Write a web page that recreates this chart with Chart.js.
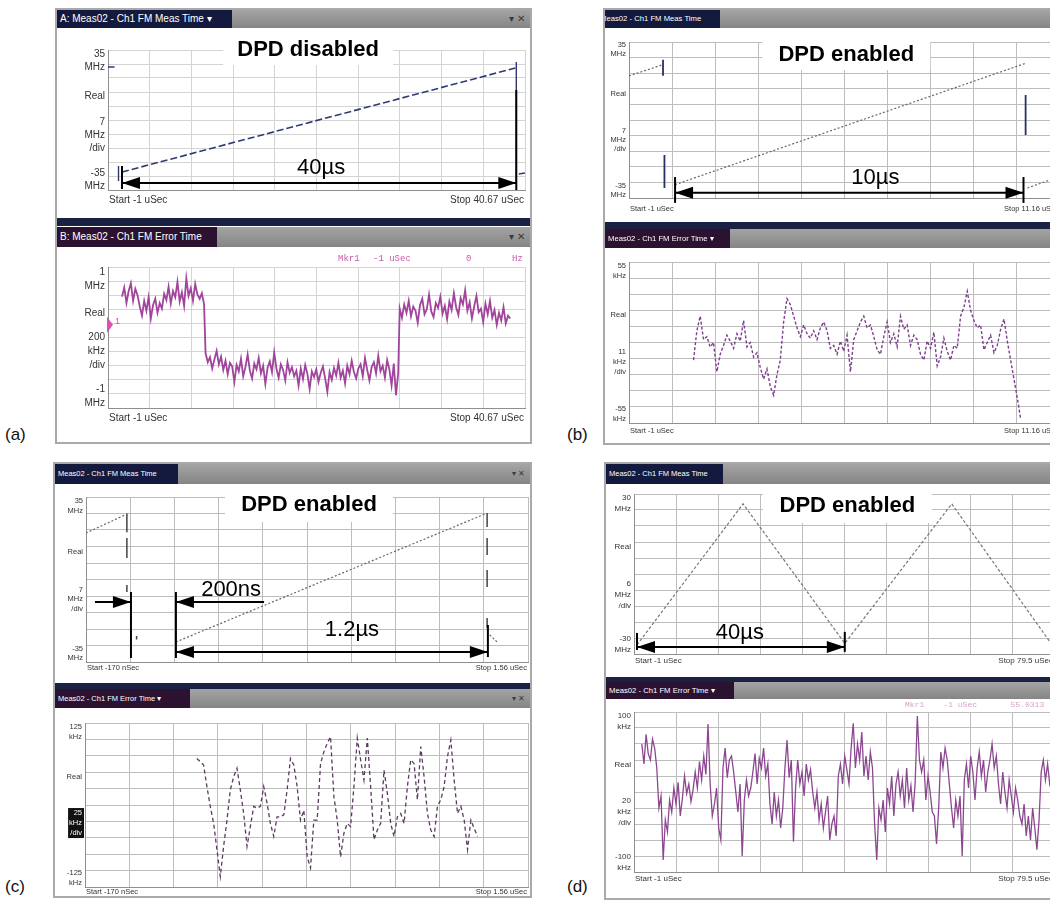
<!DOCTYPE html>
<html>
<head>
<meta charset="utf-8">
<script src="https://cdn.jsdelivr.net/npm/chart.js@4"></script>
<style>
html, body { margin: 0; padding: 0; overflow: hidden; }
body { width: 1050px; height: 907px; position: relative; background: #fff; font-family: "Liberation Sans", Arial, sans-serif; }
.frame { position: absolute; box-sizing: border-box; border: 2px solid #a9a9a9; background: #fff; }
.tbar { position: absolute; background: linear-gradient(#a4a4a4, #858585); overflow: hidden; }
.tab { position: absolute; left: 0; top: 0; bottom: 0; color: #fff; white-space: nowrap; overflow: hidden; padding-left: 3px; box-sizing: border-box; }
.navy { background: #131a3d; }
.plum { background: #2c1231; }
.ctl { position: absolute; right: 5px; top: 0; color: #3a3a3a; font-size: 10px; }
.sep { position: absolute; background: #1b2143; }
canvas { position: absolute; }
.lbl { position: absolute; font-size: 17px; color: #111; }
.mkr { position: absolute; font-family: "Liberation Mono", monospace; white-space: pre; }
</style>
</head>
<body>

<!-- (a) -->
<div class="frame" style="left:55px;top:8px;width:477px;height:436px"></div>
<div class="tbar" style="left:57px;top:10px;width:473px;height:18px">
  <div class="tab navy" style="width:175px;font-size:10px;line-height:18px">A: Meas02 - Ch1 FM Meas Time &#9662;</div>
  <span class="ctl" style="line-height:18px">&#9662; &#10005;</span>
</div>
<canvas id="cA1" width="473" height="190" style="left:57px;top:28px"></canvas>
<div class="sep" style="left:57px;top:218px;width:473px;height:8px"></div>
<div class="tbar" style="left:57px;top:227px;width:473px;height:20px">
  <div class="tab plum" style="width:160px;font-size:10px;line-height:20px">B: Meas02 - Ch1 FM Error Time</div>
  <span class="ctl" style="line-height:20px">&#9662; &#10005;</span>
</div>
<canvas id="cA2" width="473" height="193" style="left:57px;top:247px"></canvas>
<span class="mkr" style="left:338px;top:254px;font-size:9px;color:#c85aa8">Mkr1</span>
<span class="mkr" style="left:373px;top:254px;font-size:9px;color:#c85aa8">-1 uSec</span>
<span class="mkr" style="left:466px;top:254px;font-size:9px;color:#c85aa8">0</span>
<span class="mkr" style="left:512px;top:254px;font-size:9px;color:#c85aa8">Hz</span>

<!-- (b) -->
<div class="frame" style="left:603px;top:8px;width:470px;height:437px"></div>
<div class="tbar" style="left:605px;top:10px;width:470px;height:18px">
  <div class="tab navy" style="width:115px;font-size:7.7px;line-height:18px;padding-left:0"><span style="margin-left:-5px">Meas02 - Ch1 FM Meas Time</span></div>
</div>
<canvas id="cB1" width="465" height="194" style="left:605px;top:28px"></canvas>
<div class="sep" style="left:605px;top:222px;width:470px;height:7px"></div>
<div class="tbar" style="left:605px;top:229px;width:470px;height:19px">
  <div class="tab plum" style="width:125px;font-size:7.7px;line-height:19px">Meas02 - Ch1 FM Error Time &#9662;</div>
</div>
<canvas id="cB2" width="465" height="195" style="left:605px;top:248px"></canvas>

<!-- (c) -->
<div class="frame" style="left:53px;top:462px;width:479px;height:436px"></div>
<div class="tbar" style="left:55px;top:464px;width:475px;height:20px">
  <div class="tab navy" style="width:123px;font-size:7.5px;line-height:20px">Meas02 - Ch1 FM Meas Time</div>
  <span class="ctl" style="line-height:20px;font-size:8px">&#9662; &#10005;</span>
</div>
<canvas id="cC1" width="475" height="199" style="left:55px;top:484px"></canvas>
<div class="sep" style="left:55px;top:683px;width:475px;height:6px"></div>
<div class="tbar" style="left:55px;top:689px;width:475px;height:19px">
  <div class="tab plum" style="width:135px;font-size:7.5px;line-height:19px">Meas02 - Ch1 FM Error Time &#9662;</div>
  <span class="ctl" style="line-height:19px;font-size:8px">&#9662; &#10005;</span>
</div>
<canvas id="cC2" width="475" height="188" style="left:55px;top:708px"></canvas>

<!-- (d) -->
<div class="frame" style="left:604px;top:462px;width:470px;height:438px"></div>
<div class="tbar" style="left:606px;top:464px;width:470px;height:20px">
  <div class="tab navy" style="width:117px;font-size:7.5px;line-height:20px">Meas02 - Ch1 FM Meas Time</div>
</div>
<canvas id="cD1" width="464" height="193" style="left:606px;top:484px"></canvas>
<div class="sep" style="left:606px;top:677px;width:470px;height:5px"></div>
<div class="tbar" style="left:606px;top:682px;width:470px;height:17px">
  <div class="tab plum" style="width:128px;font-size:7.7px;line-height:17px">Meas02 - Ch1 FM Error Time &#9662;</div>
</div>
<canvas id="cD2" width="464" height="199" style="left:606px;top:699px"></canvas>
<span class="mkr" style="left:905px;top:700px;font-size:8px;color:#d7a3cc">Mkr1    -1 uSec       55.0313 kHz</span>

<div class="lbl" style="left:5px;top:425px">(a)</div>
<div class="lbl" style="left:567px;top:425px">(b)</div>
<div class="lbl" style="left:5px;top:877px">(c)</div>
<div class="lbl" style="left:567px;top:877px">(d)</div>

<script>
// ---------- (a) DPD disabled : FM meas time (MHz vs us)
const aRampT = [0.4, 39.7];
const aRampV = [-26, 26];
const aStubT = [-1, -0.35, -0.35, 40.05, 40.67];
const aStubV = [26.5, 26.5, null, -27, -26.5];
const aJumpT = [0.05, 39.8];
const aJumpTop = [-23, 29];
const aJumpBot = [-30.5, -32];

// (a) FM error time (MHz), three plateaus
const aErr1T = [0.4, 8.6];
const aErr1 = [0.58, 0.71, 0.49, 0.66, 0.77, 0.52, 0.69, 0.60,
  0.44, 0.31, 0.52, 0.38, 0.57, 0.27, 0.46, 0.55, 0.35, 0.49, 0.41, 0.62,
  0.53, 0.72, 0.48, 0.66, 0.57, 0.79, 0.51, 0.64, 0.45, 0.84, 0.59, 0.70, 0.52, 0.76, 0.61, 0.55, 0.63, 0.47];
const aErr2T = [8.75, 28.0];
const aErr2 = [-0.22, -0.35, -0.28, -0.44, -0.31, -0.19, -0.38, -0.27, -0.46, -0.33,
  -0.52, -0.36, -0.41, -0.63, -0.39, -0.48, -0.30, -0.55, -0.42, -0.24,
  -0.47, -0.58, -0.37, -0.45, -0.29, -0.51, -0.40, -0.66, -0.43, -0.34,
  -0.49, -0.21, -0.44, -0.57, -0.38, -0.46, -0.61, -0.35, -0.50, -0.42,
  -0.55, -0.47, -0.68, -0.44, -0.59, -0.39, -0.52, -0.73, -0.48, -0.56,
  -0.45, -0.63, -0.50, -0.41, -0.58, -0.77, -0.49, -0.60, -0.43, -0.54,
  -0.36, -0.57, -0.47, -0.65, -0.40, -0.52, -0.33, -0.49, -0.58, -0.44,
  -0.38, -0.55, -0.29, -0.46, -0.61, -0.42, -0.35, -0.51, -0.26, -0.48,
  -0.40, -0.57, -0.32, -0.45, -0.68, -0.37, -0.82, -0.50];
const aErr3T = [28.15, 39.2];
const aErr3 = [0.41, 0.28, 0.47, 0.35, 0.52, 0.30, 0.44, 0.38, 0.21, 0.46,
  0.55, 0.33, 0.40, 0.61, 0.37, 0.29, 0.49, 0.42, 0.58, 0.34,
  0.45, 0.26, 0.51, 0.39, 0.63, 0.43, 0.32, 0.56, 0.47, 0.67,
  0.38, 0.50, 0.27, 0.44, 0.59, 0.36, 0.41, 0.22, 0.48, 0.33,
  0.52, 0.28, 0.39, 0.18, 0.35, 0.24, 0.43, 0.20, 0.31, 0.27];
const aMarker = {t: -1, v: 0.18};

// ---------- (b) DPD enabled, 10 us
const bRampT = [-1, -0.07, -0.07, 0.3, 10.2, 10.2, 10.24, 11.16];
const bRampV = [19.8, 24.7, null, -29, 25.5, null, -30.5, -25.3];
const bJumpT = [-0.04, 0, 10.19];
const bJumpTop = [27, -15.7, 11.2];
const bJumpBot = [19.8, -30.5, -6.7];
const bErrT = [0.82, 10.05];
const bErr = [-12, 8, 18, 2, 4, -3, 0, -20, -8, -2,
  5, 1, -4, 6, 1, 15, -3, 0, -10, -7,
  -17, -25, -18, -30, -36, -22, -12, 14, 30, 26,
  18, 10, 4, 12, 6, 3, 8, 2, 10, 14,
  8, -4, -2, -8, 1, -6, 5, -20, 2, 8,
  14, 18, 10, 12, 4, -5, -8, 4, 14, 0,
  6, -3, 18, 9, 12, -2, 5, 2, -8, -12,
  1, -4, 7, -16, -10, 3, -6, -12, -2, -4,
  18, 24, 35, 22, 15, 10, 12, -5, 0, 5,
  -7, -2, 9, 16, 1, -12, -25, -38, -52];

// ---------- (c) DPD enabled, 1.2 us
const cRampT = [-0.17, -0.017, -0.017, 0.182, 1.392, 1.392, 1.41, 1.443];
const cRampV = [19.7, 27.4, null, -26.5, 27.8, null, -23.5, -26.9];
const cJumpT = [-0.01, -0.01, -0.01, 0.028, 1.4, 1.4, 1.4, 1.4];
const cJumpTop = [28, 17.6, -2.3, -24, 28.2, 17.6, 4, -16.3];
const cJumpBot = [20, 9.1, -5.3, -25.5, 22.3, 10.4, -3.2, -20.6];
const cErrT = [0.267, 1.363];
const cErr = [71, 66, 61, 28, -2, -28, -68, -109, -63, -23,
  23, 43, 56, 23, -13, -63, -33, -2, -5, -2,
  28, 3, -28, -48, -18, -18, -15, 23, 71, 61,
  28, -23, -8, -79, -96, -23, -23, 63, 81, 94,
  104, 13, -23, -79, -43, -28, -33, 28, 102, 69,
  38, 102, 28, -53, -38, -28, 53, 18, -28, -48,
  -18, -13, -28, 28, 69, 63, 8, 89, 43, -13,
  -38, -48, -2, 8, 28, 74, 99, 38, -13, -2,
  -23, -68, -23, -36, -48];

// ---------- (d) DPD enabled, triangular chirp
const dTriT = [-0.43, 19.9, 39.4, 59.9, 79.5];
const dTriV = [-26.6, 26.3, -26, 26.3, -27.6];
const dErrT = [0.5, 79.5];
const dErr = [60, 35, 72, 48, 40, 66, 55, 30,
  -20, -5, -85, -35, -50, -10,
  -25, 5, -15, 12, -30, -8, 20, -2, 10, -12, 3,
  25, 5, 38, 15, 45, 22, 85,
  10, -30, -15, 5, -45, -60,
  30, 55, 18, 40, 45, 25,
  0, -25, 10, -80,
  -10, 15, -5, 5,
  25, 48, 10, 42, 30, 55, 20, 35,
  -15, -40, 0, -30, -10, -45, -20,
  30, 65, 18, 40, -62, 5,
  40, 10, 25, -5, 35, 15, 28, 0,
  -20, 0, -35, -15, -45, -25, -5, -60, -40, -30, -55,
  20, 35, 10, 45, 28, 10,
  55, 86, 30, 60, 40, 75, 20, 45, 15, 50, 30,
  -40, -85, -20, -35, -10, -50,
  5, -15, 20, -30, 10, 25, -5, 15, -20, 30, -10, 8, -25, 12,
  95, 40,
  25, 40, -10, 20, 0, -25,
  -30, -65, -20,
  50, 30, 55, 40, 10,
  -20, -45, -10, -30, -5, -80,
  15, 35, 5, 45, 25, -10, 30, 50, 20, 40, 0, 25,
  40, 60, 30, 45,
  10, -15, 25, 0, -20, 15, -5, -25, 5, -10, -30,
  -40, -15, -55, -30, -60, -20, -45, -72, -35,
  25, 40, 15, 35, 10,
  20, 30];

function pts(ts, vs) {
  return ts.map((t, i) => ({x: t, y: vs[i]}));
}
function jumps(ts, tops, bots) {
  const out = [];
  ts.forEach((t, i) => out.push({x: t, y: tops[i]}, {x: t, y: bots[i]}, {x: t, y: null}));
  return out;
}
function record(span, vs) {
  return vs.map((v, i) => ({x: span[0] + (span[1] - span[0]) * i / (vs.length - 1), y: v}));
}

const extras = {};

function head(ctx, x, y, dir) {
  ctx.beginPath();
  ctx.moveTo(x, y);
  ctx.lineTo(x - dir * 18, y - 6);
  ctx.lineTo(x - dir * 18, y + 6);
  ctx.closePath();
  ctx.fill();
}

const vsaPlugin = {
  id: 'vsa',
  afterDraw(chart) {
    const e = extras[chart.canvas.id];
    if (!e) return;
    const {ctx, chartArea: a} = chart;
    const px = v => chart.scales.x.getPixelForValue(v);
    const py = v => chart.scales.y.getPixelForValue(v);
    ctx.save();
    ctx.font = e.font;
    ctx.fillStyle = '#333';
    ctx.textBaseline = 'middle';
    ctx.textAlign = 'right';
    const lx = a.left - 3, lh = e.lh;
    e.top.forEach((s, i) => ctx.fillText(s, lx, a.top + e.edge + i * lh));
    ctx.fillText('Real', lx, a.top + a.height * 0.33);
    const mid = a.top + a.height * e.divAt;
    if (e.invert) {
      const w = Math.max(...e.div.map(s => ctx.measureText(s).width)) + 2;
      ctx.fillStyle = '#111';
      ctx.fillRect(lx - w + 1, mid - 1.5 * lh, w + 1, 3 * lh);
      ctx.fillStyle = '#fff';
    }
    e.div.forEach((s, i) => ctx.fillText(s, lx, mid + (i - 1) * lh));
    ctx.fillStyle = '#333';
    e.bottom.forEach((s, i) => ctx.fillText(s, lx, a.bottom - e.edge - (e.bottom.length - 1 - i) * lh));
    ctx.textAlign = 'left';
    ctx.fillText(e.start, a.left + 1, a.bottom + e.foot);
    ctx.textAlign = 'right';
    ctx.fillText(e.stop, a.right - 1, a.bottom + e.foot);

    if (e.marker) {
      const mx = px(e.marker.t), my = py(e.marker.v);
      ctx.fillStyle = '#e04fae';
      ctx.beginPath();
      ctx.moveTo(mx + 5, my);
      ctx.lineTo(mx - 1, my - 8);
      ctx.lineTo(mx - 1, my + 8);
      ctx.closePath();
      ctx.fill();
      ctx.textAlign = 'left';
      ctx.font = '9px "Liberation Sans", Arial';
      ctx.fillText('1', mx + 7, my - 3);
    }

    (e.ann || []).forEach(an => {
      ctx.strokeStyle = '#000';
      ctx.fillStyle = '#000';
      ctx.lineWidth = 2;
      if (an.bar !== undefined) {
        ctx.beginPath();
        ctx.moveTo(px(an.bar), py(an.y1));
        ctx.lineTo(px(an.bar), py(an.y2));
        ctx.stroke();
      }
      if (an.arrow) {
        const x1 = px(an.arrow[0]), x2 = px(an.arrow[1]), y = py(an.y);
        ctx.beginPath();
        ctx.moveTo(x1, y);
        ctx.lineTo(x2, y);
        ctx.stroke();
        if (an.l) head(ctx, x1, y, -1);
        if (an.r) head(ctx, x2, y, 1);
      }
      if (an.box) {
        const cx = px(an.x), cy = py(an.y);
        ctx.fillStyle = '#fff';
        ctx.fillRect(cx - an.w / 2, cy - an.h / 2, an.w, an.h);
        ctx.fillStyle = '#000';
        ctx.font = 'bold 22px "Liberation Sans", Arial';
        ctx.textAlign = 'center';
        ctx.textBaseline = 'middle';
        ctx.fillText(an.box, cx, cy + 1);
      }
      if (an.text) {
        ctx.font = '22px "Liberation Sans", Arial';
        ctx.textAlign = 'center';
        ctx.textBaseline = 'middle';
        ctx.fillText(an.text, px(an.x), py(an.y));
      }
    });
    ctx.restore();
  }
};

function tenDivs(scale) {
  const step = (scale.max - scale.min) / 10;
  scale.ticks = [];
  for (let i = 0; i <= 10; i++) scale.ticks.push({value: scale.min + i * step});
}

function vsaChart(id, o) {
  extras[id] = o.vsa;
  return new Chart(document.getElementById(id), {
    type: 'line',
    data: {
      datasets: o.traces.map(tr => ({
        data: tr.data,
        borderColor: tr.color,
        borderWidth: tr.width || 1,
        borderDash: tr.dash || [],
        pointRadius: 0,
        tension: 0,
        spanGaps: false,
        fill: false
      }))
    },
    options: {
      responsive: false,
      animation: false,
      devicePixelRatio: 1,
      layout: {padding: o.pad},
      plugins: {legend: {display: false}, tooltip: {enabled: false}},
      scales: {
        x: {
          type: 'linear', min: o.x[0], max: o.x[1],
          afterBuildTicks: tenDivs,
          ticks: {display: false},
          grid: {color: o.grid, drawTicks: false},
          border: {color: '#8f8f8f'}
        },
        y: {
          type: 'linear', min: o.y[0], max: o.y[1],
          afterBuildTicks: tenDivs,
          ticks: {display: false},
          grid: {color: o.grid, drawTicks: false},
          border: {color: '#8f8f8f'}
        }
      }
    },
    plugins: [vsaPlugin]
  });
}

const F_A = '10px "Liberation Sans", Arial';
const F_S = '7.5px "Liberation Sans", Arial';
const F_D = '8px "Liberation Sans", Arial';

// (a) top
vsaChart('cA1', {
  x: [-1, 40.67], y: [-35, 35], grid: '#d4d4d4',
  pad: {left: 51, right: 5, top: 22, bottom: 28},
  traces: [
    {data: pts(aRampT, aRampV), color: '#2f3a73', width: 1.6, dash: [7, 3]},
    {data: pts(aStubT, aStubV), color: '#2f3a73', width: 1.4},
    {data: jumps(aJumpT, aJumpTop, aJumpBot), color: '#2f3a73', width: 1.4}
  ],
  vsa: {
    font: F_A, lh: 13, edge: 4, divAt: 0.61,
    top: ['35', 'MHz'], div: ['7', 'MHz', '/div'], bottom: ['-35', 'MHz'],
    start: 'Start -1 uSec', stop: 'Stop 40.67 uSec', foot: 10,
    ann: [
      {box: 'DPD disabled', x: 19, y: 35.75, w: 170, h: 33},
      {bar: 0.4, y1: -23, y2: -34.5},
      {bar: 39.8, y1: 15, y2: -35},
      {arrow: [0.4, 39.8], y: -31.5, l: true, r: true},
      {text: '40µs', x: 20.3, y: -24}
    ]
  }
});

// (a) bottom
vsaChart('cA2', {
  x: [-1, 40.67], y: [-1, 1], grid: '#d4d4d4',
  pad: {left: 51, right: 5, top: 20, bottom: 32},
  traces: [
    {data: record(aErr1T, aErr1).concat(record(aErr2T, aErr2), record(aErr3T, aErr3)), color: '#a0449c', width: 1.8}
  ],
  vsa: {
    font: F_A, lh: 14, edge: 5, divAt: 0.6,
    top: ['1', 'MHz'], div: ['200', 'kHz', '/div'], bottom: ['-1', 'MHz'],
    start: 'Start -1 uSec', stop: 'Stop 40.67 uSec', foot: 10,
    marker: aMarker
  }
});

// (b) top
vsaChart('cB1', {
  x: [-1, 11.16], y: [-35, 35], grid: '#bdbdbd',
  pad: {left: 24, right: 10, top: 14, bottom: 24},
  traces: [
    {data: pts(bRampT, bRampV), color: '#666', width: 1.2, dash: [2, 2]},
    {data: jumps(bJumpT, bJumpTop, bJumpBot), color: '#2a3060', width: 1.8}
  ],
  vsa: {
    font: F_S, lh: 9, edge: 3, divAt: 0.63,
    top: ['35', 'MHz'], div: ['7', 'MHz', '/div'], bottom: ['-35', 'MHz'],
    start: 'Start -1 uSec', stop: 'Stop 11.16 uSec', foot: 11,
    ann: [
      {box: 'DPD enabled', x: 5.13, y: 29.6, w: 168, h: 32},
      {bar: 0.3, y1: -25.6, y2: -37.2},
      {bar: 10.13, y1: -25.6, y2: -37.2},
      {arrow: [0.3, 10.13], y: -32.7, l: true, r: true},
      {text: '10µs', x: 5.95, y: -26}
    ]
  }
});

// (b) bottom
vsaChart('cB2', {
  x: [-1, 11.16], y: [-55, 55], grid: '#bdbdbd',
  pad: {left: 24, right: 10, top: 14, bottom: 20},
  traces: [
    {data: record(bErrT, bErr), color: '#7e3f8e', width: 1.4, dash: [3, 2]}
  ],
  vsa: {
    font: F_S, lh: 10, edge: 4, divAt: 0.62,
    top: ['55', 'kHz'], div: ['11', 'kHz', '/div'], bottom: ['-55', 'kHz'],
    start: 'Start -1 uSec', stop: 'Stop 11.16 uSec', foot: 8
  }
});

// (c) top
vsaChart('cC1', {
  x: [-0.17, 1.56], y: [-35, 35], grid: '#bdbdbd',
  pad: {left: 31, right: 2, top: 13, bottom: 21},
  traces: [
    {data: pts(cRampT, cRampV), color: '#666', width: 1.2, dash: [2, 2]},
    {data: jumps(cJumpT, cJumpTop, cJumpBot), color: '#444', width: 1.5}
  ],
  vsa: {
    font: F_S, lh: 9.5, edge: 4, divAt: 0.62,
    top: ['35', 'MHz'], div: ['7', 'MHz', '/div'], bottom: ['-35', 'MHz'],
    start: 'Start -170 nSec', stop: 'Stop 1.56 uSec', foot: 6,
    ann: [
      {box: 'DPD enabled', x: 0.703, y: 32.2, w: 168, h: 37},
      {arrow: [-0.135, 0.006], y: -9.5, r: true},
      {bar: 0.006, y1: -5.3, y2: -33.3},
      {bar: 0.182, y1: -5.3, y2: -33.3},
      {arrow: [0.182, 0.527], y: -9.5, l: true},
      {text: '200ns', x: 0.398, y: -4.5},
      {arrow: [0.182, 1.403], y: -30.8, l: true, r: true},
      {bar: 1.403, y1: -19.3, y2: -32.9},
      {text: '1.2µs', x: 0.871, y: -21.4}
    ]
  }
});

// (c) bottom
vsaChart('cC2', {
  x: [-0.17, 1.56], y: [-125, 125], grid: '#bdbdbd',
  pad: {left: 30, right: 2, top: 15, bottom: 9},
  traces: [
    {data: record(cErrT, cErr), color: '#5a3a5f', width: 1.3, dash: [4, 3]}
  ],
  vsa: {
    font: F_S, lh: 10, edge: 4, divAt: 0.61, invert: true,
    top: ['125', 'kHz'], div: ['25', 'kHz', '/div'], bottom: ['-125', 'kHz'],
    start: 'Start -170 nSec', stop: 'Stop 1.56 uSec', foot: 4.5
  }
});

// (d) top
vsaChart('cD1', {
  x: [-1, 79.5], y: [-30, 30], grid: '#bdbdbd',
  pad: {left: 28, right: 16, top: 10, bottom: 23},
  traces: [
    {data: pts(dTriT, dTriV), color: '#777', width: 1.2, dash: [3, 2]}
  ],
  vsa: {
    font: F_D, lh: 11, edge: 4, divAt: 0.63,
    top: ['30', 'MHz'], div: ['6', 'MHz', '/div'], bottom: ['-30', 'MHz'],
    start: 'Start -1 uSec', stop: 'Stop 79.5 uSec', foot: 7,
    ann: [
      {box: 'DPD enabled', x: 39.9, y: 25.9, w: 169, h: 36},
      {bar: -0.43, y1: -22.1, y2: -28.5},
      {bar: 39.4, y1: -21.7, y2: -29.2},
      {arrow: [-0.43, 39.4], y: -27.4, l: true, r: true},
      {text: '40µs', x: 19.3, y: -22.1}
    ]
  }
});

// (d) bottom
vsaChart('cD2', {
  x: [-1, 79.5], y: [-100, 100], grid: '#bdbdbd',
  pad: {left: 28, right: 16, top: 13, bottom: 26},
  traces: [
    {data: record(dErrT, dErr), color: '#8c4790', width: 1.3}
  ],
  vsa: {
    font: F_D, lh: 11, edge: 4, divAt: 0.625,
    top: ['100', 'kHz'], div: ['20', 'kHz', '/div'], bottom: ['-100', 'kHz'],
    start: 'Start -1 uSec', stop: 'Stop 79.5 uSec', foot: 7
  }
});
</script>
</body>
</html>
